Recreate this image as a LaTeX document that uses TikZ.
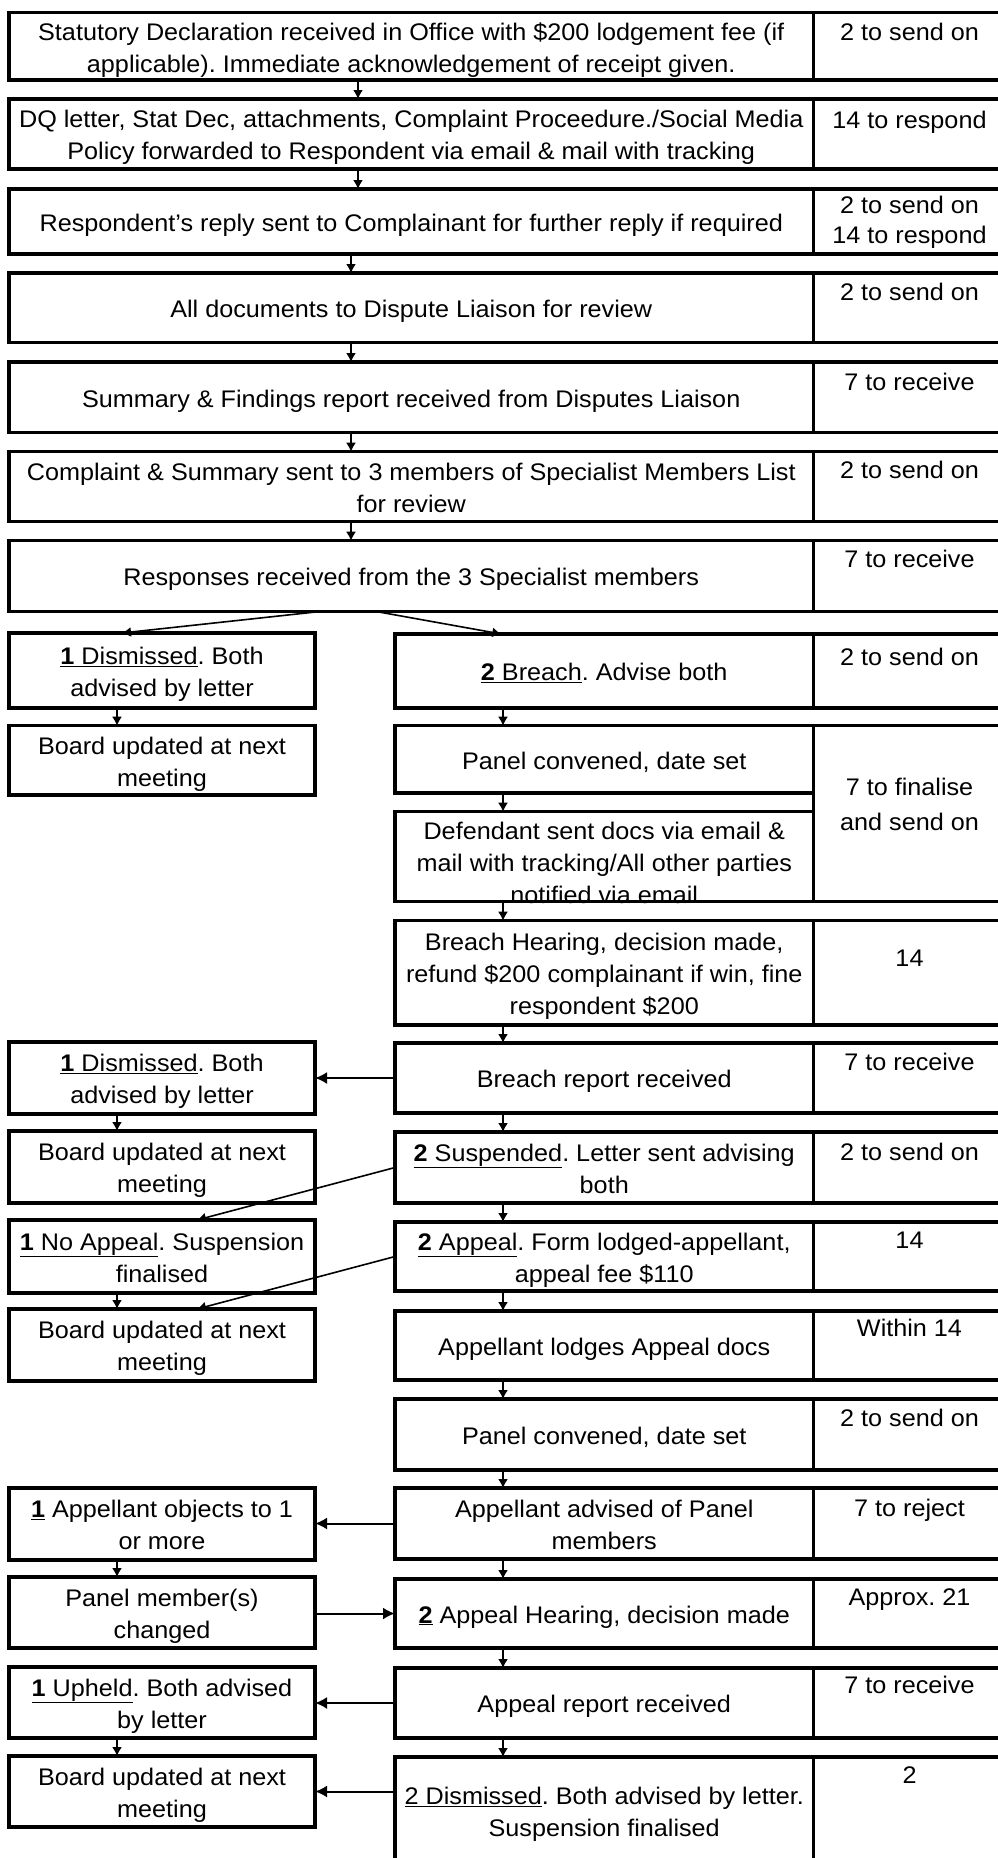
\documentclass[tikz,border=0pt]{standalone}
\usepackage{fontspec}
\setmainfont{Liberation Sans}[FakeStretch=1.05]
\usetikzlibrary{arrows.meta}
\newcommand{\myfs}{\fontsize{24}{32}\selectfont}
\newcommand{\bt}[1]{\rule{0pt}{25pt}#1\rule[-5.5pt]{0pt}{0pt}}
\frenchspacing
\begin{document}
\frenchspacing
\begin{tikzpicture}[x=1pt,y=-1pt,
 box/.style={draw=black, line width=3.5pt, inner sep=0pt, outer sep=0pt, align=center, anchor=north west, font=\myfs\frenchspacing, text=black},
 mb/.style={box, minimum width=804.5pt},
 lb/.style={box, minimum width=306pt},
 rb/.style={box, minimum width=418.5pt},
 rc/.style={box, minimum width=192pt},
 rt/.style={anchor=base, font=\myfs\frenchspacing, inner sep=0pt, align=center, text=black},
 varr/.style={draw=black, line width=1.6pt, -{Latex[length=9pt,width=10pt]}},
 harr/.style={draw=black, line width=2pt, -{Latex[length=12pt,width=12pt]}},
]
\useasboundingbox (0,0) rectangle (998,1858);
\clip (0,0) rectangle (998,1858);
\fill[white] (0,0) rectangle (998,1858);

\coordinate (mxa) at (358,0);
\coordinate (mxb) at (351,0);
\coordinate (rx) at (503,0);
\coordinate (lx) at (117,0);

% ---------------- main column ----------------
\node[mb, minimum height=67.3pt] (m1) at (9,12.7) {\bt{Statutory Declaration received in Office with \$200 lodgement fee (if\\applicable). Immediate acknowledgement of receipt given.}};
\node[rc, minimum height=67.3pt] (m1c) at (813.5,12.7) {};
\node[rt] (m1t) at ([yshift=-27.5pt]m1c.north) {2 to send on};

\node[mb, minimum height=70pt] (m2) at (9,99) {\bt{DQ letter, Stat Dec, attachments, Complaint Proceedure./Social Media\\Policy forwarded to Respondent via email \& mail with tracking}};
\node[rc, minimum height=70pt] (m2c) at (813.5,99) {};
\node[rt] (m2t) at ([yshift=-29pt]m2c.north) {14 to respond};

\node[mb, minimum height=65pt] (m3) at (9,189) {\bt{Respondent's reply sent to Complainant for further reply if required}};
\node[rc, minimum height=65pt] (m3c) at (813.5,189) {};
\node[rt, anchor=center, font=\fontsize{24}{30}\selectfont] (m3t) at ([yshift=-1pt]m3c.center) {2 to send on\\14 to respond};

\node[mb, minimum height=69.7pt] (m4) at (9,273) {\bt{All documents to Dispute Liaison for review}};
\node[rc, minimum height=69.7pt] (m4c) at (813.5,273) {};
\node[rt] (m4t) at ([yshift=-27.5pt]m4c.north) {2 to send on};

\node[mb, minimum height=70.7pt] (m5) at (9,362) {\bt{Summary \& Findings report received from Disputes Liaison}};
\node[rc, minimum height=70.7pt] (m5c) at (813.5,362) {};
\node[rt] (m5t) at ([yshift=-28.5pt]m5c.north) {7 to receive};

\node[mb, minimum height=70pt] (m6) at (9,451.7) {\bt{Complaint \& Summary sent to 3 members of Specialist Members List\\for review}};
\node[rc, minimum height=70pt] (m6c) at (813.5,451.7) {};
\node[rt] (m6t) at ([yshift=-27pt]m6c.north) {2 to send on};

\node[mb, minimum height=71pt] (m7) at (9,540.7) {\bt{Responses received from the 3 Specialist members}};
\node[rc, minimum height=71pt] (m7c) at (813.5,540.7) {};
\node[rt] (m7t) at ([yshift=-27pt]m7c.north) {7 to receive};

% ---------------- right branch ----------------
\node[rb, minimum height=74pt] (r1) at (395,634) {\bt{\underline{\textbf{2} Breach}. Advise both}};
\node[rc, minimum height=74pt] (r1c) at (813.5,634) {};
\node[rt] (r1t) at ([yshift=-31pt]r1c.north) {2 to send on};

\node[rb, minimum height=67.3pt] (r2) at (395,725.7) {\bt{Panel convened, date set}};
\node[rb, minimum height=90pt] (r3) at (395,811.7) {};
\node[rt, anchor=center] (r3t) at ([yshift=-6pt]r3.center) {Defendant sent docs via email \&\\mail with tracking/All other parties\\notified via email};
\node[rc, minimum height=176pt] (r23c) at (813.5,725.7) {};
\node[rt, anchor=center, font=\fontsize{24}{35}\selectfont] (r23t) at ([yshift=9pt]r23c.center) {7 to finalise\\and send on};

\node[rb, minimum height=104.3pt] (r4) at (395,920.7) {\bt{Breach Hearing, decision made,\\refund \$200 complainant if win, fine\\respondent \$200}};
\node[rc, minimum height=104.3pt] (r4c) at (813.5,920.7) {};
\node[rt] (r4t) at ([yshift=-46pt]r4c.north) {14};

\node[rb, minimum height=70pt] (r5) at (395,1043) {\bt{Breach report received}};
\node[rc, minimum height=70pt] (r5c) at (813.5,1043) {};
\node[rt] (r5t) at ([yshift=-27.5pt]r5c.north) {7 to receive};

\node[rb, minimum height=71pt] (r6) at (395,1132) {\bt{\underline{\textbf{2} Suspended}. Letter sent advising\\both}};
\node[rc, minimum height=71pt] (r6c) at (813.5,1132) {};
\node[rt] (r6t) at ([yshift=-28.5pt]r6c.north) {2 to send on};

\node[rb, minimum height=69pt] (r7) at (395,1222) {\bt{\underline{\textbf{2} Appeal}. Form lodged-appellant,\\appeal fee \$110}};
\node[rc, minimum height=69pt] (r7c) at (813.5,1222) {};
\node[rt] (r7t) at ([yshift=-26.5pt]r7c.north) {14};

\node[rb, minimum height=69pt] (r8) at (395,1311) {\bt{Appellant lodges Appeal docs}};
\node[rc, minimum height=69pt] (r8c) at (813.5,1311) {};
\node[rt] (r8t) at ([yshift=-25.5pt]r8c.north) {Within 14};

\node[rb, minimum height=71pt] (r9) at (395,1399) {\bt{Panel convened, date set}};
\node[rc, minimum height=71pt] (r9c) at (813.5,1399) {};
\node[rt] (r9t) at ([yshift=-27.5pt]r9c.north) {2 to send on};

\node[rb, minimum height=71pt] (r10) at (395,1488) {\bt{Appellant advised of Panel\\members}};
\node[rc, minimum height=71pt] (r10c) at (813.5,1488) {};
\node[rt] (r10t) at ([yshift=-28.5pt]r10c.north) {7 to reject};

\node[rb, minimum height=69pt] (r11) at (395,1579) {\bt{\underline{\textbf{2}} Appeal Hearing, decision made}};
\node[rc, minimum height=69pt] (r11c) at (813.5,1579) {};
\node[rt] (r11t) at ([yshift=-26.5pt]r11c.north) {Approx. 21};

\node[rb, minimum height=70pt] (r12) at (395,1668) {\bt{Appeal report received}};
\node[rc, minimum height=70pt] (r12c) at (813.5,1668) {};
\node[rt] (r12t) at ([yshift=-25.5pt]r12c.north) {7 to receive};

\node[rb, minimum height=108pt] (r13) at (395,1757) {\bt{\underline{2 Dismissed}. Both advised by letter.\\Suspension finalised}};
\node[rc, minimum height=108pt] (r13c) at (813.5,1757) {};
\node[rt] (r13t) at ([yshift=-26.5pt]r13c.north) {2};

% ---------------- left branch ----------------
\node[lb, minimum height=75pt] (l1) at (9,633) {\bt{\underline{\textbf{1} Dismissed}. Both\\advised by letter}};
\node[lb, minimum height=69.3pt] (l2) at (9,725.7) {\bt{Board updated at next\\meeting}};
\node[lb, minimum height=72pt] (l3) at (9,1042) {\bt{\underline{\textbf{1} Dismissed}. Both\\advised by letter}};
\node[lb, minimum height=72pt] (l4) at (9,1131) {\bt{Board updated at next\\meeting}};
\node[lb, minimum height=73pt] (l5) at (9,1220) {\bt{\underline{\textbf{1} No Appeal}. Suspension\\finalised}};
\node[lb, minimum height=72pt] (l6) at (9,1309) {\bt{Board updated at next\\meeting}};
\node[lb, minimum height=72pt] (l7) at (9,1488) {\bt{\underline{\textbf{1}} Appellant objects to 1\\or more}};
\node[lb, minimum height=71pt] (l8) at (9,1577) {\bt{Panel member(s)\\changed}};
\node[lb, minimum height=71pt] (l9) at (9,1667) {\bt{\underline{\textbf{1} Upheld}. Both advised\\by letter}};
\node[lb, minimum height=71pt] (l10) at (9,1756) {\bt{Board updated at next\\meeting}};

% ---------------- connectors ----------------
\draw[varr] (m1.south -| mxa) -- (m2.north -| mxa);
\draw[varr] (m2.south -| mxa) -- (m3.north -| mxa);
\draw[varr] (m3.south -| mxb) -- (m4.north -| mxb);
\draw[varr] (m4.south -| mxb) -- (m5.north -| mxb);
\draw[varr] (m5.south -| mxb) -- (m6.north -| mxb);
\draw[varr] (m6.south -| mxb) -- (m7.north -| mxb);

\draw[varr] ([xshift=-93pt]m7.south) -- ([xshift=-40pt]l1.north);
\draw[varr] ([xshift=-34pt]m7.south) -- ([xshift=-103pt]r1.north);

\foreach \a/\b in {r1/r2, r2/r3, r3/r4, r4/r5, r5/r6, r6/r7, r7/r8, r8/r9, r9/r10, r10/r11, r11/r12, r12/r13}
  \draw[varr] (\a.south -| rx) -- (\b.north -| rx);
\foreach \a/\b in {l1/l2, l3/l4, l5/l6, l7/l8, l9/l10}
  \draw[varr] (\a.south -| lx) -- (\b.north -| lx);

\draw[varr] (r6.west) -- ([xshift=35pt]l5.north);
\draw[varr] (r7.west) -- ([xshift=35pt]l6.north);

\draw[harr] (r5.west) -- (l3.east |- r5.west);
\draw[harr] (r10.west) -- (l7.east |- r10.west);
\draw[harr] (l8.east |- r11.west) -- (r11.west);
\draw[harr] (r12.west) -- (l9.east |- r12.west);
\draw[harr] (r13.west |- l10.east) -- (l10.east);
\end{tikzpicture}
\end{document}
